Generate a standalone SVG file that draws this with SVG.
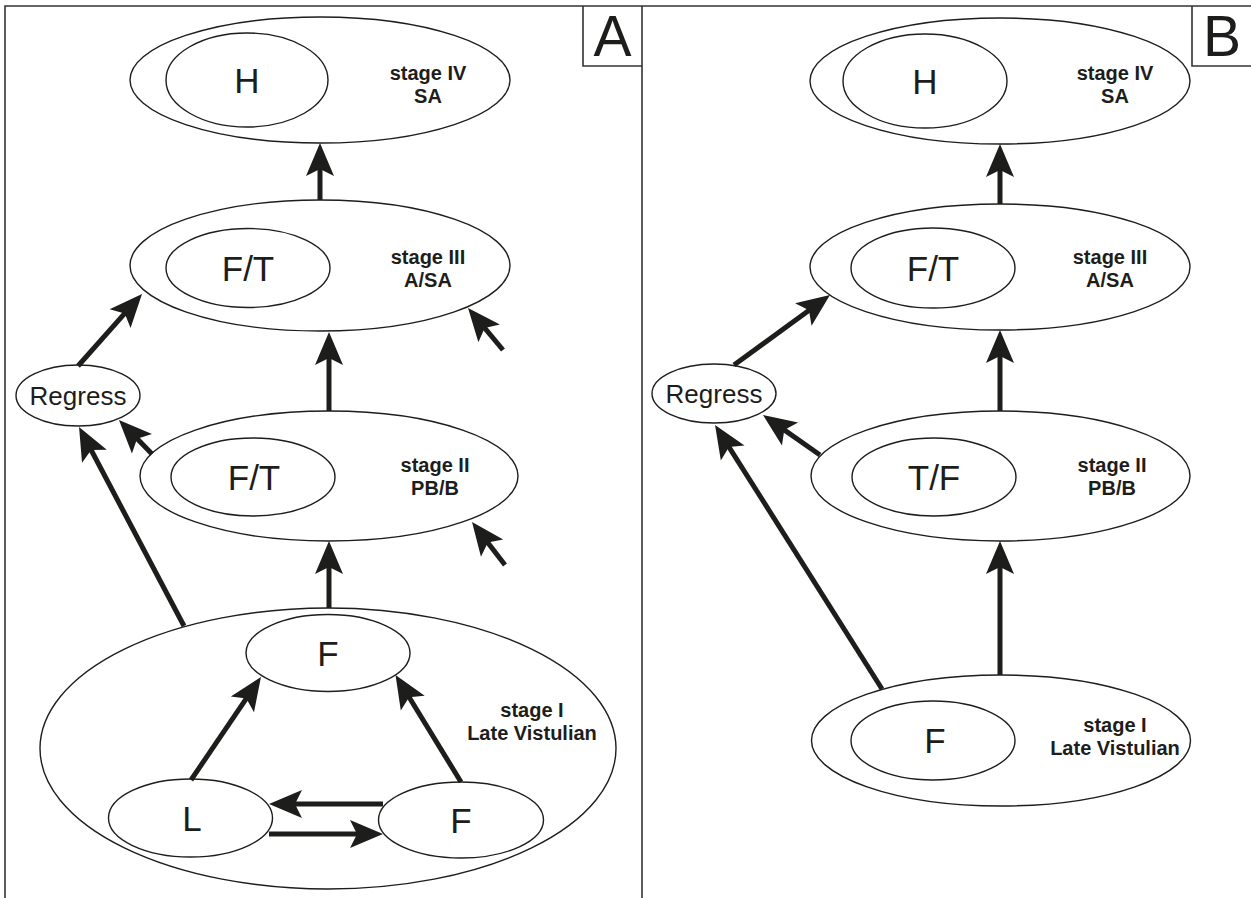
<svg xmlns="http://www.w3.org/2000/svg" width="1251" height="898" viewBox="0 0 1251 898">
<style>
.frame{fill:none;stroke:#333;stroke-width:1.6}
.el{fill:#fff;stroke:#1d1d1b;stroke-width:1.4}
.in{fill:none;stroke:#1d1d1b;stroke-width:1.4}
.big{font-family:"Liberation Sans",Arial,sans-serif;font-size:35px;fill:#1d1d1b;text-anchor:middle}
.lab{font-family:"Liberation Sans",Arial,sans-serif;font-size:20px;font-weight:bold;fill:#1d1d1b;text-anchor:middle}
.reg{font-family:"Liberation Sans",Arial,sans-serif;font-size:26px;fill:#1d1d1b;text-anchor:middle}
.pan{font-family:"Liberation Sans",Arial,sans-serif;font-size:57px;fill:#1d1d1b;text-anchor:middle}
.ar{stroke:#1d1d1b;stroke-width:5;fill:none;marker-end:url(#ah)}
</style>
<defs>
<marker id="ah" viewBox="-35 -15 36 30" refX="-22" refY="0" markerWidth="36" markerHeight="30" markerUnits="userSpaceOnUse" orient="auto">
<path d="M0,0 L-33,-14 L-26,0 L-33,14 Z" fill="#1d1d1b"/>
</marker>
</defs>
<rect width="1251" height="898" fill="#fff"/>
<g id="frame">
<path class="frame" d="M5,898 V6 H1251 M642,6 V898 M583,6 V66 H642 M1192,6 V66 H1251"/>
<text class="pan" x="612.5" y="56">A</text>
<text class="pan" x="1222" y="56">B</text>
</g>

<g id="A-stage4">
<ellipse class="el" cx="320" cy="80" rx="190" ry="63"/>
<ellipse class="in" cx="247" cy="80" rx="81" ry="47"/>
<text class="big" x="247" y="92.5">H</text>
<text class="lab" x="428" y="80">stage IV</text>
<text class="lab" x="428" y="103">SA</text>
</g>
<g id="A-stage3">
<ellipse class="el" cx="320" cy="265.5" rx="190" ry="65.5"/>
<ellipse class="in" cx="248" cy="268" rx="82" ry="39.5"/>
<text class="big" x="248" y="280.5">F/T</text>
<text class="lab" x="428" y="264">stage III</text>
<text class="lab" x="428" y="287">A/SA</text>
</g>
<g id="A-regress">
<ellipse class="el" cx="78" cy="395.5" rx="62" ry="30.5"/>
<text class="reg" x="78" y="405">Regress</text>
</g>
<g id="A-stage2">
<ellipse class="el" cx="329" cy="476" rx="189" ry="65"/>
<ellipse class="in" cx="253" cy="477" rx="82" ry="39"/>
<text class="big" x="254" y="489.5">F/T</text>
<text class="lab" x="435" y="472">stage II</text>
<text class="lab" x="435" y="495">PB/B</text>
</g>
<g id="A-stage1">
<ellipse class="el" cx="328" cy="748.5" rx="288" ry="140.5"/>
<text class="lab" x="532" y="717">stage I</text>
<text class="lab" x="532" y="740">Late Vistulian</text>
</g>
<g id="A-F-top">
<ellipse class="el" cx="328" cy="653" rx="82" ry="38.5"/>
<text class="big" x="328" y="665.5">F</text>
</g>
<g id="A-L">
<ellipse class="el" cx="190.5" cy="818" rx="82" ry="39"/>
<text class="big" x="192" y="830.5">L</text>
</g>
<g id="A-F-right">
<ellipse class="el" cx="461" cy="820" rx="82.5" ry="38"/>
<text class="big" x="461" y="832.5">F</text>
</g>

<g id="B-stage4">
<ellipse class="el" cx="1000" cy="81" rx="190" ry="63"/>
<ellipse class="in" cx="925" cy="81" rx="82" ry="47"/>
<text class="big" x="925" y="93.5">H</text>
<text class="lab" x="1115" y="80">stage IV</text>
<text class="lab" x="1115" y="103">SA</text>
</g>
<g id="B-stage3">
<ellipse class="el" cx="1000" cy="267" rx="190" ry="63"/>
<ellipse class="in" cx="933" cy="268" rx="82" ry="40"/>
<text class="big" x="933" y="280.5">F/T</text>
<text class="lab" x="1110" y="264">stage III</text>
<text class="lab" x="1110" y="287">A/SA</text>
</g>
<g id="B-regress">
<ellipse class="el" cx="714" cy="393.5" rx="62" ry="29.5"/>
<text class="reg" x="714" y="403">Regress</text>
</g>
<g id="B-stage2">
<ellipse class="el" cx="1000.5" cy="476" rx="189.5" ry="65"/>
<ellipse class="in" cx="934" cy="477" rx="82" ry="39"/>
<text class="big" x="934" y="489.5">T/F</text>
<text class="lab" x="1112" y="472">stage II</text>
<text class="lab" x="1112" y="495">PB/B</text>
</g>
<g id="B-stage1">
<ellipse class="el" cx="1001" cy="740.5" rx="189.5" ry="65.5"/>
<ellipse class="in" cx="933" cy="740.5" rx="82" ry="39.5"/>
<text class="big" x="935" y="753">F</text>
<text class="lab" x="1115" y="732">stage I</text>
<text class="lab" x="1115" y="755">Late Vistulian</text>
</g>

<g id="connectors">
<line class="ar" x1="320" y1="200" x2="320" y2="165"/>
<line class="ar" x1="329" y1="411" x2="329" y2="354"/>
<line class="ar" x1="329" y1="608" x2="329" y2="563"/>
<line class="ar" x1="78" y1="366" x2="127.4" y2="310.4"/>
<line class="ar" x1="152" y1="454" x2="134.3" y2="435.8"/>
<line class="ar" x1="184" y1="626" x2="89.3" y2="446.5"/>
<line class="ar" x1="505" y1="565" x2="485.4" y2="539.4"/>
<line class="ar" x1="503" y1="350" x2="482.1" y2="324.9"/>
<line class="ar" x1="191" y1="780" x2="248.6" y2="695.2"/>
<line class="ar" x1="461" y1="782" x2="407" y2="693.8"/>
<line class="ar" x1="383" y1="804" x2="291" y2="804"/>
<line class="ar" x1="269" y1="834" x2="361" y2="834"/>
<line class="ar" x1="1000" y1="204" x2="1000" y2="166"/>
<line class="ar" x1="1000" y1="411" x2="1000" y2="352"/>
<line class="ar" x1="1000" y1="675" x2="1000" y2="563"/>
<line class="ar" x1="734" y1="365" x2="812.2" y2="308"/>
<line class="ar" x1="820" y1="455" x2="781" y2="427.6"/>
<line class="ar" x1="882" y1="689" x2="726.8" y2="443.6"/>
</g>
</svg>
